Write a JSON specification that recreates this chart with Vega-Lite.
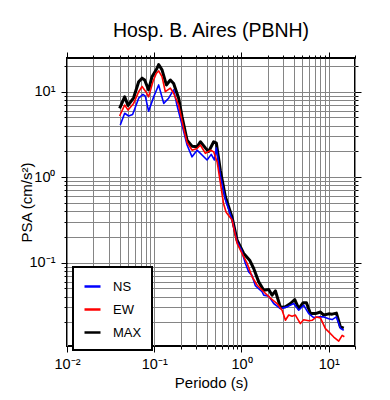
{
  "$schema": "https://vega.github.io/schema/vega-lite/v6.json",
  "autosize": "none",
  "padding": {"left": 67, "top": 58, "right": 35, "bottom": 54},
  "width": 288,
  "height": 288,
  "background": "white",
  "config": {
    "font": "Liberation Sans",
    "view": {"stroke": "black", "strokeWidth": 2},
    "axis": {"domain": false, "tickColor": "black", "tickWidth": 1, "labelColor": "black", "titleColor": "black", "labelFont": "Liberation Sans", "titleFont": "Liberation Sans", "titleFontWeight": "normal", "labelOverlap": false, "labelFlush": false},
    "legend": {"labelFont": "Liberation Sans"},
    "title": {"font": "Liberation Sans", "fontWeight": "normal", "color": "black"}
  },
  "title": {"text": "Hosp. B. Aires (PBNH)", "fontSize": 19.5, "offset": 10, "anchor": "middle"},
  "data": {"values": [
    {"T":0.0401,"c":"MAX","v":6.4},{"T":0.0458,"c":"MAX","v":8.7},{"T":0.0501,"c":"MAX","v":6.9},{"T":0.058,"c":"MAX","v":8.5},{"T":0.0663,"c":"MAX","v":13.1},{"T":0.0725,"c":"MAX","v":14.4},{"T":0.0776,"c":"MAX","v":13.7},{"T":0.0862,"c":"MAX","v":10.5},{"T":0.0943,"c":"MAX","v":15},{"T":0.1077,"c":"MAX","v":18.8},{"T":0.1123,"c":"MAX","v":20.8},{"T":0.1228,"c":"MAX","v":18},{"T":0.1377,"c":"MAX","v":12},{"T":0.153,"c":"MAX","v":13.7},{"T":0.1668,"c":"MAX","v":12.5},{"T":0.1905,"c":"MAX","v":8.4},{"T":0.2084,"c":"MAX","v":5.1},{"T":0.2378,"c":"MAX","v":2.7},{"T":0.2712,"c":"MAX","v":2.3},{"T":0.3097,"c":"MAX","v":2.27},{"T":0.3381,"c":"MAX","v":2.6},{"T":0.3855,"c":"MAX","v":2.2},{"T":0.4207,"c":"MAX","v":2.0},{"T":0.48,"c":"MAX","v":2.6},{"T":0.5153,"c":"MAX","v":2.5},{"T":0.5728,"c":"MAX","v":1.2},{"T":0.6535,"c":"MAX","v":0.59},{"T":0.7798,"c":"MAX","v":0.34},{"T":0.8904,"c":"MAX","v":0.183},{"T":1.06,"c":"MAX","v":0.128},{"T":1.241,"c":"MAX","v":0.107},{"T":1.38,"c":"MAX","v":0.0855},{"T":1.575,"c":"MAX","v":0.0596},{"T":1.798,"c":"MAX","v":0.0476},{"T":2.052,"c":"MAX","v":0.0485},{"T":2.244,"c":"MAX","v":0.0417},{"T":2.448,"c":"MAX","v":0.0467},{"T":2.794,"c":"MAX","v":0.030},{"T":3.189,"c":"MAX","v":0.0305},{"T":3.64,"c":"MAX","v":0.0333},{"T":4.077,"c":"MAX","v":0.0371},{"T":4.531,"c":"MAX","v":0.029},{"T":5.087,"c":"MAX","v":0.034},{"T":5.551,"c":"MAX","v":0.034},{"T":6.166,"c":"MAX","v":0.0254},{"T":7.037,"c":"MAX","v":0.0254},{"T":8.032,"c":"MAX","v":0.0265},{"T":8.762,"c":"MAX","v":0.0244},{"T":10.0,"c":"MAX","v":0.0252},{"T":10.94,"c":"MAX","v":0.025},{"T":12.25,"c":"MAX","v":0.0257},{"T":13.61,"c":"MAX","v":0.0177},{"T":14.85,"c":"MAX","v":0.0171},
    {"T":0.0408,"c":"NS","v":4.07},{"T":0.0458,"c":"NS","v":5.6},{"T":0.0509,"c":"NS","v":5.2},{"T":0.0565,"c":"NS","v":5.4},{"T":0.0663,"c":"NS","v":8.4},{"T":0.0742,"c":"NS","v":9.3},{"T":0.079,"c":"NS","v":8.9},{"T":0.0862,"c":"NS","v":5.9},{"T":0.0985,"c":"NS","v":8.7},{"T":0.1123,"c":"NS","v":12},{"T":0.1284,"c":"NS","v":7.3},{"T":0.1462,"c":"NS","v":8.4},{"T":0.1668,"c":"NS","v":10.5},{"T":0.182,"c":"NS","v":7},{"T":0.2084,"c":"NS","v":4.07},{"T":0.2378,"c":"NS","v":2.38},{"T":0.2712,"c":"NS","v":1.73},{"T":0.3097,"c":"NS","v":2.07},{"T":0.353,"c":"NS","v":1.82},{"T":0.4031,"c":"NS","v":1.59},{"T":0.45,"c":"NS","v":1.85},{"T":0.49,"c":"NS","v":1.59},{"T":0.515,"c":"NS","v":2.2},{"T":0.5728,"c":"NS","v":1.05},{"T":0.6535,"c":"NS","v":0.55},{"T":0.7798,"c":"NS","v":0.32},{"T":0.8904,"c":"NS","v":0.175},{"T":1.0,"c":"NS","v":0.14},{"T":1.109,"c":"NS","v":0.098},{"T":1.21,"c":"NS","v":0.078},{"T":1.32,"c":"NS","v":0.071},{"T":1.44,"c":"NS","v":0.054},{"T":1.72,"c":"NS","v":0.0457},{"T":1.8,"c":"NS","v":0.0417},{"T":2.05,"c":"NS","v":0.0406},{"T":2.34,"c":"NS","v":0.0333},{"T":2.79,"c":"NS","v":0.029},{"T":3.33,"c":"NS","v":0.0304},{"T":3.97,"c":"NS","v":0.0333},{"T":4.53,"c":"NS","v":0.0278},{"T":5.16,"c":"NS","v":0.0318},{"T":5.9,"c":"NS","v":0.0254},{"T":6.73,"c":"NS","v":0.0228},{"T":7.68,"c":"NS","v":0.0232},{"T":8.76,"c":"NS","v":0.0232},{"T":10.0,"c":"NS","v":0.0221},{"T":10.94,"c":"NS","v":0.0216},{"T":12.25,"c":"NS","v":0.0232},{"T":13.61,"c":"NS","v":0.0171},{"T":14.85,"c":"NS","v":0.0162},
    {"T":0.0401,"c":"EW","v":5.2},{"T":0.0458,"c":"EW","v":7.0},{"T":0.0501,"c":"EW","v":6.1},{"T":0.058,"c":"EW","v":7.3},{"T":0.0663,"c":"EW","v":10},{"T":0.0725,"c":"EW","v":11.5},{"T":0.08,"c":"EW","v":10},{"T":0.0862,"c":"EW","v":8.7},{"T":0.0965,"c":"EW","v":13.1},{"T":0.1055,"c":"EW","v":16.4},{"T":0.1123,"c":"EW","v":17.5},{"T":0.1228,"c":"EW","v":15},{"T":0.134,"c":"EW","v":10},{"T":0.153,"c":"EW","v":11},{"T":0.1668,"c":"EW","v":9.6},{"T":0.1905,"c":"EW","v":7},{"T":0.2195,"c":"EW","v":3.56},{"T":0.2378,"c":"EW","v":2.55},{"T":0.2712,"c":"EW","v":2.07},{"T":0.3097,"c":"EW","v":2.17},{"T":0.3381,"c":"EW","v":2.38},{"T":0.3855,"c":"EW","v":1.9},{"T":0.444,"c":"EW","v":2.07},{"T":0.48,"c":"EW","v":1.98},{"T":0.526,"c":"EW","v":1.51},{"T":0.623,"c":"EW","v":0.49},{"T":0.6669,"c":"EW","v":0.39},{"T":0.7798,"c":"EW","v":0.315},{"T":0.8904,"c":"EW","v":0.168},{"T":1.0174,"c":"EW","v":0.128},{"T":1.1619,"c":"EW","v":0.098},{"T":1.327,"c":"EW","v":0.068},{"T":1.515,"c":"EW","v":0.0545},{"T":1.798,"c":"EW","v":0.0457},{"T":2.145,"c":"EW","v":0.0385},{"T":2.559,"c":"EW","v":0.0333},{"T":2.923,"c":"EW","v":0.0278},{"T":3.189,"c":"EW","v":0.0212},{"T":3.477,"c":"EW","v":0.0244},{"T":3.8,"c":"EW","v":0.0236},{"T":4.15,"c":"EW","v":0.0244},{"T":4.73,"c":"EW","v":0.0194},{"T":5.16,"c":"EW","v":0.0215},{"T":5.9,"c":"EW","v":0.0209},{"T":6.45,"c":"EW","v":0.0212},{"T":7.23,"c":"EW","v":0.0232},{"T":8.03,"c":"EW","v":0.0226},{"T":9.16,"c":"EW","v":0.0169},{"T":10.0,"c":"EW","v":0.0155},{"T":11.41,"c":"EW","v":0.0135},{"T":13.02,"c":"EW","v":0.0121},{"T":14.25,"c":"EW","v":0.0141},{"T":15.1,"c":"EW","v":0.0136}
  ]},
  "resolve": {"axis": {"x": "independent", "y": "independent"}},
  "layer": [
    {
      "mark": {"type": "line", "clip": true, "strokeJoin": "round"},
      "encoding": {
        "x": {"field": "T", "type": "quantitative", "scale": {"type": "log", "domain": [0.01, 20], "nice": false},
          "axis": {"orient": "bottom", "values": [0.01,0.02,0.03,0.04,0.05,0.06,0.07,0.08,0.09,0.1,0.2,0.3,0.4,0.5,0.6,0.7,0.8,0.9,1,2,3,4,5,6,7,8,9,10,20],
            "grid": true, "gridColor": "#858585", "gridWidth": 1, "tickSize": 3, "labelPadding": 8, "labelFontSize": 14.5,
            "labelExpr": "datum.value == 0.01 ? '10⁻²' : datum.value == 0.1 ? '10⁻¹' : datum.value == 1 ? '10⁰' : datum.value == 10 ? '10¹' : ''",
            "title": "Periodo (s)", "titleFontSize": 15, "titlePadding": 5}},
        "y": {"field": "v", "type": "quantitative", "scale": {"type": "log", "domain": [0.0106, 24.8], "nice": false},
          "axis": {"orient": "left", "values": [0.02,0.03,0.04,0.05,0.06,0.07,0.08,0.09,0.1,0.2,0.3,0.4,0.5,0.6,0.7,0.8,0.9,1,2,3,4,5,6,7,8,9,10,20],
            "grid": true, "gridColor": "#858585", "gridWidth": 1, "tickSize": 3, "labelPadding": 9, "labelFontSize": 14.5,
            "labelExpr": "datum.value == 0.1 ? '10⁻¹' : datum.value == 1 ? '10⁰' : datum.value == 10 ? '10¹' : ''",
            "title": "PSA (cm/s²)", "titleFontSize": 15, "titlePadding": -5}},
        "color": {"field": "c", "type": "nominal", "scale": {"domain": ["NS", "EW", "MAX"], "range": ["#0000ff", "#ff0000", "#000000"]},
          "legend": {"title": null, "orient": "none", "legendX": 6, "legendY": 209, "direction": "vertical", "fillColor": "white", "strokeColor": "black", "padding": 10, "rowPadding": 6, "symbolType": "stroke", "symbolStrokeWidth": 2.5, "symbolSize": 256, "labelFontSize": 13, "labelOffset": 11, "labelColor": "black",
            "encode": {"legend": {"update": {"strokeWidth": {"value": 2}}}}}},
        "strokeWidth": {"condition": {"test": "datum.c == 'MAX'", "value": 3}, "value": 1.6},
        "order": {"field": "T", "type": "quantitative"}
      }
    },
    {
      "mark": {"type": "point", "opacity": 0},
      "encoding": {
        "x": {"field": "T", "type": "quantitative", "axis": {"orient": "bottom", "values": [0.01,0.1,1,10], "grid": false, "labels": false, "tickSize": 6, "title": null}},
        "y": {"field": "v", "type": "quantitative", "axis": {"orient": "left", "values": [0.1,1,10], "grid": false, "labels": false, "tickSize": 6, "title": null}}
      }
    },
    {
      "mark": {"type": "point", "opacity": 0},
      "encoding": {
        "x": {"field": "T", "type": "quantitative", "axis": {"orient": "top", "values": [0.01,0.02,0.03,0.04,0.05,0.06,0.07,0.08,0.09,0.1,0.2,0.3,0.4,0.5,0.6,0.7,0.8,0.9,1,2,3,4,5,6,7,8,9,10,20], "grid": false, "labels": false, "tickSize": 3, "title": null}},
        "y": {"field": "v", "type": "quantitative", "axis": {"orient": "right", "values": [0.02,0.03,0.04,0.05,0.06,0.07,0.08,0.09,0.1,0.2,0.3,0.4,0.5,0.6,0.7,0.8,0.9,1,2,3,4,5,6,7,8,9,10,20], "grid": false, "labels": false, "tickSize": 3, "title": null}}
      }
    },
    {
      "mark": {"type": "point", "opacity": 0},
      "encoding": {
        "x": {"field": "T", "type": "quantitative", "axis": {"orient": "top", "values": [0.01,0.1,1,10], "grid": false, "labels": false, "tickSize": 6, "title": null}},
        "y": {"field": "v", "type": "quantitative", "axis": {"orient": "right", "values": [0.1,1,10], "grid": false, "labels": false, "tickSize": 6, "title": null}}
      }
    }
  ]
}
